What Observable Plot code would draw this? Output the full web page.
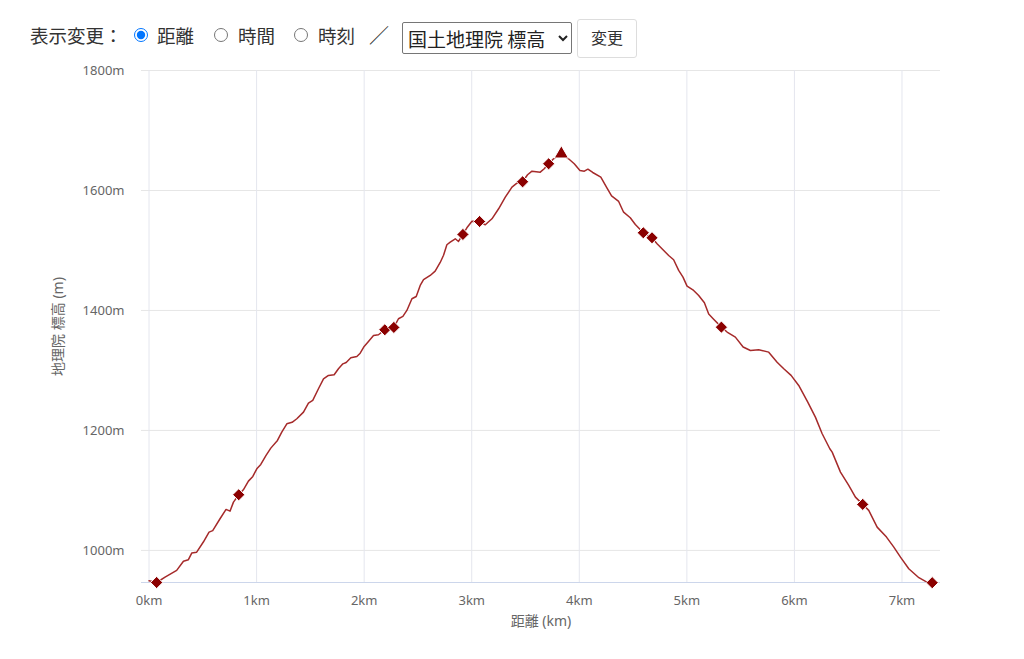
<!DOCTYPE html>
<html><head><meta charset="utf-8">
<script src="https://cdn.jsdelivr.net/npm/d3@7"></script>
<script src="https://cdn.jsdelivr.net/npm/@observablehq/plot@0.6"></script>
<style>
body{margin:0;background:#fff;font-family:"Noto Sans CJK JP","Noto Sans",sans-serif;}
#controls{position:relative;height:60px;width:1024px;color:#333;font-size:18.5px;}
#controls > *{position:absolute;}
#controls span{top:22px;line-height:26px;}
#controls input[type=radio]{margin:0;width:14px;height:14px;top:28px;}
#controls select{left:402px;top:22px;width:170px;height:32px;font-size:19px;font-family:"Noto Sans CJK JP",sans-serif;color:#222;background:#fff;border:1px solid #767676;border-radius:2px;padding:0 1px;}
#controls button{left:577px;top:19px;width:60px;height:39px;font-size:16px;font-family:"Noto Sans CJK JP",sans-serif;color:#333;background:#fff;border:1px solid #ddd;border-radius:3px;padding:0 0 4px 0;}
#chart svg{display:block;}
</style></head><body>
<div id="controls">
  <span style="left:30px">表示変更：</span>
  <input type="radio" name="m" checked style="left:134px">
  <span style="left:157px">距離</span>
  <input type="radio" name="m" style="left:214px">
  <span style="left:238px">時間</span>
  <input type="radio" name="m" style="left:294px">
  <span style="left:318px">時刻</span>
  <span style="left:369px;font-size:20px">／</span>
  <select><option>国土地理院 標高</option></select>
  <button>変更</button>
</div>
<div id="chart"></div>
<script>
const distKm = [0.00,0.071,0.149,0.257,0.32,0.366,0.397,0.443,0.505,0.558,0.592,0.66,0.716,0.753,0.785,0.834,0.877,0.924,0.965,1.002,1.039,1.088,1.132,1.194,1.234,1.281,1.33,1.374,1.436,1.482,1.522,1.575,1.622,1.668,1.721,1.761,1.802,1.833,1.876,1.932,1.963,2.0,2.04,2.087,2.133,2.192,2.276,2.319,2.36,2.397,2.444,2.484,2.521,2.552,2.614,2.66,2.707,2.738,2.769,2.8,2.847,2.877,2.918,2.955,3.002,3.073,3.126,3.188,3.25,3.312,3.374,3.42,3.473,3.519,3.56,3.637,3.674,3.715,3.761,3.833,3.9,3.953,4.006,4.047,4.08,4.125,4.2,4.258,4.3,4.366,4.412,4.474,4.521,4.595,4.676,4.723,4.785,4.831,4.877,4.924,4.964,5.002,5.063,5.11,5.163,5.203,5.249,5.321,5.374,5.451,5.523,5.591,5.668,5.761,5.839,5.901,5.969,6.04,6.124,6.195,6.258,6.329,6.351,6.428,6.505,6.567,6.635,6.691,6.769,6.856,6.924,6.986,7.063,7.157,7.219,7.281];
const elevM = [949.5,946.5,955.5,966.7,982,984.5,995.5,997,1014,1030.5,1033,1052.8,1068.3,1065.5,1080.5,1092.8,1101,1115.5,1123.3,1136,1143.3,1158.3,1170.5,1183.3,1197.2,1211,1213.5,1219.5,1230.5,1245.5,1250,1269.5,1286,1291.7,1292.8,1302.8,1311,1313.3,1321,1323.3,1328.8,1340,1348.3,1358.3,1359.5,1367.8,1371.7,1386.2,1390,1400,1419.5,1423.3,1441.7,1451.2,1458.3,1465.5,1480,1492,1509.5,1513.8,1519.5,1515,1526.7,1537.8,1548.8,1548.3,1542.8,1552.8,1569.5,1588.8,1605.5,1612.2,1614.5,1626.2,1632.2,1630.5,1636.2,1644.5,1652.8,1661,1652.8,1644.5,1633.3,1632.2,1635.5,1630,1622.2,1604,1591,1581.7,1563.8,1554.5,1543.3,1529.5,1521.2,1511.2,1500,1491.7,1484.5,1466.7,1455.5,1440.5,1433.3,1425,1412.8,1394,1385.5,1372.2,1364,1355.5,1339,1333.3,1334.5,1330.5,1313.8,1302.8,1291.7,1275,1247.2,1222.2,1194.5,1169.5,1163.8,1130.5,1108.3,1088.8,1076.7,1066.7,1038.8,1022.2,1005.5,988.8,969.5,954.5,948.3,946.2];
const markerKm = [0.071,0.834,2.192,2.276,2.918,3.073,3.473,3.715,4.595,4.676,5.321,6.635,7.281];
const markerM = [946.5,1092.8,1367.8,1371.7,1526.7,1548.3,1614.5,1644.5,1529.5,1521.2,1372.2,1076.7,946.2];
const peakKm = [3.833];
const peakM = [1661];
const xTicks = [0,1,2,3,4,5,6,7];
const yTicks = [1000,1200,1400,1600,1800];
const xLabel = "距離 (km)";
const yLabel = "地理院 標高 (m)";

const profile = distKm.map((x, i) => ({x, y: elevM[i]}));
const markers = markerKm.map((x, i) => ({x, y: markerM[i]}));
const peak = peakKm.map((x, i) => ({x, y: peakM[i]}));
const yMin = 946.5;

const chart = Plot.plot({
  width: 1024, height: 590,
  marginTop: 10, marginLeft: 141, marginRight: 84, marginBottom: 68,
  style: {fontFamily: "'Noto Sans','Noto Sans CJK JP',sans-serif", fontSize: "13px", color: "#666", background: "#fff", overflow: "visible"},
  x: {domain: [-0.07, 7.358]},
  y: {domain: [yMin, 1800]},
  marks: [
    Plot.gridY(yTicks, {stroke: "#e6e6e6", strokeOpacity: 1}),
    Plot.gridX(xTicks, {stroke: "#e4e6ee", strokeOpacity: 1}),
    Plot.ruleY([yMin], {stroke: "#ccd6eb"}),
    Plot.axisY(yTicks, {tickSize: 0, tickPadding: 17, tickFormat: d => d + "m", fill: "#666", fontSize: 13, label: null}),
    Plot.axisX(xTicks, {tickSize: 0, tickPadding: 13, tickFormat: d => d + "km", fill: "#666", fontSize: 13, label: null}),
    Plot.text([yLabel], {frameAnchor: "left", textAnchor: "middle", rotate: -90, dx: -83, text: d => d, fill: "#666", fontSize: 14}),
    Plot.text([xLabel], {frameAnchor: "bottom", dy: 43, text: d => d, fill: "#666", fontSize: 14}),
    Plot.line(profile, {x: "x", y: "y", stroke: "#a52a2a", strokeWidth: 1.5}),
    Plot.dot(markers, {x: "x", y: "y", symbol: "diamond2", r: 5.5, fill: "#8b0000", stroke: "#fff", strokeWidth: 1}),
    Plot.dot(peak, {x: "x", y: "y", symbol: "triangle", r: 5.3, fill: "#8b0000", stroke: "#fff", strokeWidth: 1})
  ]
});
document.getElementById("chart").appendChild(chart);
</script>
</body></html>
